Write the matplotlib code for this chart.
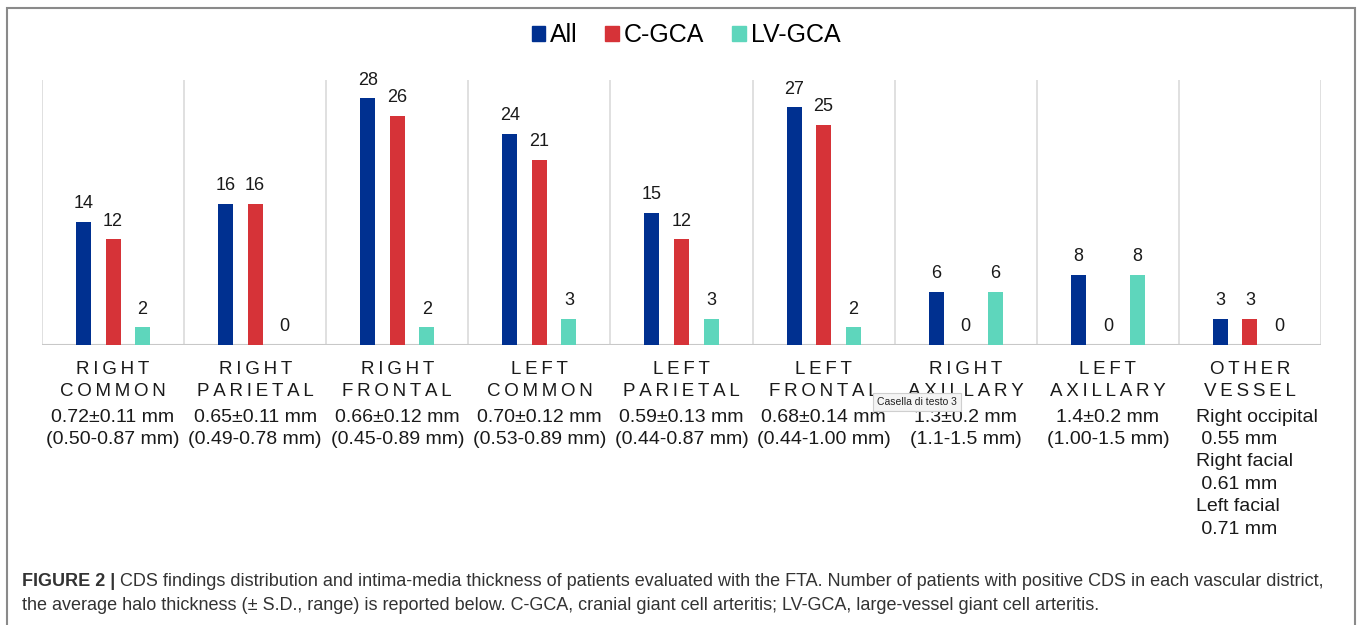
import matplotlib
matplotlib.use("Agg")
import matplotlib.pyplot as plt
from matplotlib.patches import Rectangle, Patch
from matplotlib.transforms import blended_transform_factory

W, H = 1357, 625

districts = [("RIGHT", "COMMON"), ("RIGHT", "PARIETAL"), ("RIGHT", "FRONTAL"),
             ("LEFT", "COMMON"), ("LEFT", "PARIETAL"), ("LEFT", "FRONTAL"),
             ("RIGHT", "AXILLARY"), ("LEFT", "AXILLARY"), ("OTHER", "VESSEL")]
all_pat = [14, 16, 28, 24, 15, 27, 6, 8, 3]
cgca = [12, 16, 26, 21, 12, 25, 0, 0, 3]
lvgca = [2, 0, 2, 3, 3, 2, 6, 8, 0]
thickness = ["0.72±0.11 mm", "0.65±0.11 mm", "0.66±0.12 mm", "0.70±0.12 mm",
             "0.59±0.13 mm", "0.68±0.14 mm", "1.3±0.2 mm", "1.4±0.2 mm"]
ranges = ["(0.50-0.87 mm)", "(0.49-0.78 mm)", "(0.45-0.89 mm)", "(0.53-0.89 mm)",
          "(0.44-0.87 mm)", "(0.44-1.00 mm)", "(1.1-1.5 mm)", "(1.00-1.5 mm)"]
other_vessels = ["Right occipital", " 0.55 mm", "Right facial", " 0.61 mm",
                 "Left facial", " 0.71 mm"]
series = [("All", all_pat, "#003090"), ("C-GCA", cgca, "#d63338"), ("LV-GCA", lvgca, "#5ed6bc")]

NARROW = ["Liberation Sans Narrow", "Liberation Sans", "DejaVu Sans"]
WIDE = ["Liberation Sans", "DejaVu Sans"]
TXT = "#1a1a1a"

fig = plt.figure(figsize=(W / 100, H / 100), dpi=100)
ax = fig.add_axes([42 / W, 1 - 345 / H, (1321 - 42) / W, (345 - 80) / H])

off, bw = 0.208, 0.106
for k, (name, vals, col) in enumerate(series):
    xs = [i + (k - 1) * off for i in range(len(vals))]
    ax.bar(xs, vals, width=bw, color=col, zorder=3)
    for x, v in zip(xs, vals):
        ax.annotate(str(v), (x, v), xytext=(0, 7), textcoords="offset points",
                    ha="center", va="bottom", fontsize=13, color=TXT, family=NARROW)

n = len(districts)
for b in range(n + 1):
    ax.axvline(b - 0.5, color="#dadada", lw=1.2, zorder=1)
ax.axhline(0, color="#c8c8c8", lw=1.5, zorder=2)
ax.set_xlim(-0.5, n - 0.5)
ax.set_ylim(0, 30.1)
ax.axis("off")

# legend
handles = [Patch(color=c) for _, _, c in series]
fig.legend(handles, [s[0] for s in series], loc="center", bbox_to_anchor=(686 / W, 1 - 35 / H),
           ncol=3, frameon=False, prop={"family": NARROW, "size": 18},
           handlelength=0.55, handleheight=0.55, handletextpad=0.2, columnspacing=1.1)

# category labels
tr = blended_transform_factory(ax.transData, fig.transFigure)
for i, (a, b) in enumerate(districts):
    for line, y in ((a, 370), (b, 392)):
        ax.text(i, 1 - y / H, "\u2009".join(line), transform=tr, ha="center", va="center",
                fontsize=13.5, color=TXT, family=WIDE)
for i, (t, r) in enumerate(zip(thickness, ranges)):
    ax.text(i, 1 - 417 / H, t, transform=tr, ha="center", va="center",
            fontsize=14, color=TXT, family=NARROW)
    ax.text(i, 1 - 439 / H, r, transform=tr, ha="center", va="center",
            fontsize=14, color=TXT, family=NARROW)
for j, line in enumerate(other_vessels):
    fig.text(1196 / W, 1 - (417 + j * 22.4) / H, line, ha="left", va="center",
             fontsize=14, color=TXT, family=NARROW)

# tooltip box that sits over the axillary label in the source screenshot
fig.text(917 / W, 1 - 402 / H, "Casella di testo 3", ha="center", va="center",
         fontsize=7.5, color="#222222", family=NARROW, zorder=10,
         bbox=dict(boxstyle="square,pad=0.35", fc="#f4f4f4", ec="#cfcfcf", lw=0.8))

# border
fig.patches.append(Rectangle((7 / W, -0.05), (1355 - 7) / W, 1.05 - 8 / H,
                             transform=fig.transFigure, fill=False, ec="#8a8a8a", lw=1.5))

# caption
cap1 = ("CDS findings distribution and intima-media thickness of patients evaluated with the FTA. "
        "Number of patients with positive CDS in each vascular district,")
cap2 = ("the average halo thickness (± S.D., range) is reported below. C-GCA, cranial giant cell "
        "arteritis; LV-GCA, large-vessel giant cell arteritis.")
t0 = fig.text(22 / W, 1 - 581 / H, "FIGURE 2 |", ha="left", va="center", fontsize=13,
              weight="bold", color="#333333", family=NARROW)
fig.canvas.draw()
bb = t0.get_window_extent()
fig.text(bb.x1 / W + 5 / W, 1 - 581 / H, cap1, ha="left", va="center", fontsize=13,
         color="#333333", family=NARROW)
fig.text(22 / W, 1 - 606 / H, cap2, ha="left", va="center", fontsize=13,
         color="#333333", family=NARROW)

fig.savefig("out.png", dpi=100, facecolor="white")
